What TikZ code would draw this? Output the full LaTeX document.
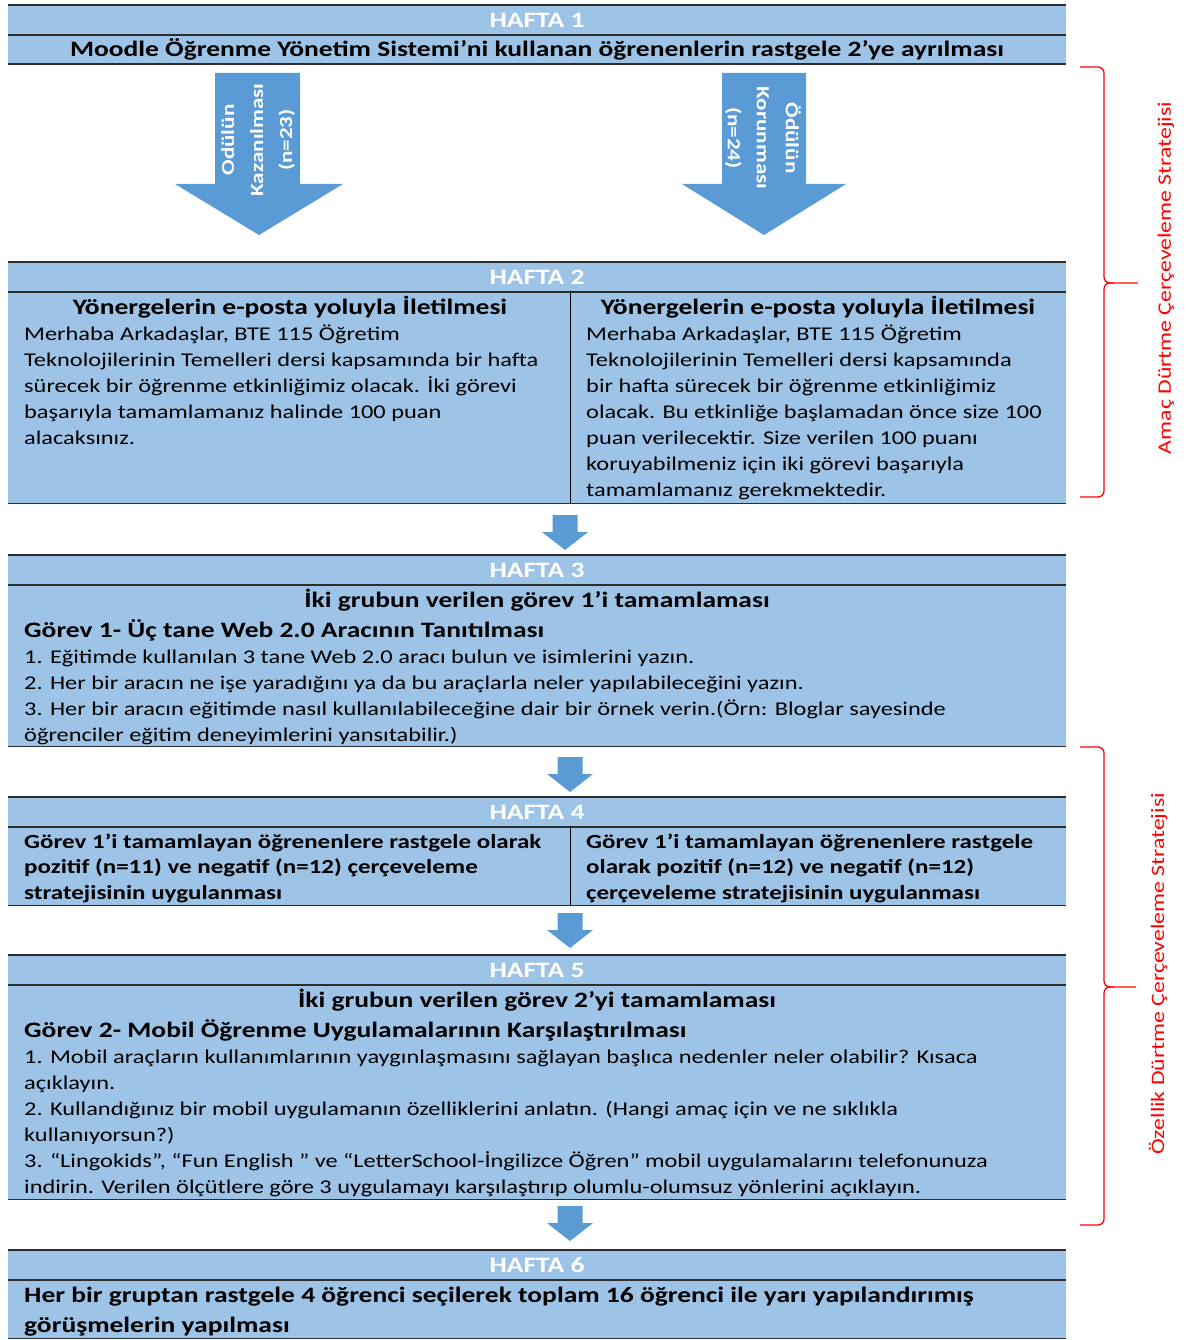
\documentclass[tikz,border=0pt]{standalone}
\usepackage{fontspec}
\setmainfont{Carlito}[FakeStretch = 1.25]
\usepackage{tikz}
\usetikzlibrary{positioning}

\definecolor{cellblue}{RGB}{157,195,230}
\definecolor{arrowblue}{RGB}{91,155,213}
\definecolor{rulegray}{RGB}{45,45,45}
\definecolor{bracered}{RGB}{255,0,0}

\begin{document}
\begin{tikzpicture}
		[
			x = 1pt, y = -1pt,
			header/.style = {rectangle, fill = cellblue, minimum width = 1058pt, minimum height = 29pt, inner sep = 0pt, text = white, font = \fontsize{22}{26}\selectfont\bfseries},
			cell/.style = {rectangle, fill = cellblue, inner sep = 0pt, anchor = north west},
			rule/.style = {draw = rulegray, line width = 1.8pt},
			divider/.style = {draw = black, line width = 1.5pt},
			title/.style = {anchor = base, inner sep = 0pt, font = \fontsize{22}{26}\selectfont\bfseries},
			taskhead/.style = {anchor = base west, inner sep = 0pt, font = \fontsize{22}{26}\selectfont\bfseries},
			boldtext/.style = {anchor = base west, inner sep = 0pt, font = \fontsize{20}{26}\selectfont\bfseries},
			bodytext/.style = {anchor = base west, inner sep = 0pt, font = \fontsize{19.5}{26}\selectfont},
			blockarrow/.style = {fill = arrowblue},
			arrowtext/.style = {text = white, align = center, inner sep = 0pt, font = \fontsize{18.5}{29}\selectfont\bfseries},
			brace/.style = {draw = bracered, line width = 1.3pt, rounded corners = 6pt},
			bracetext/.style = {text = bracered, rotate = 90, inner sep = 0pt, font = \fontsize{19}{24}\selectfont},
		]
			\useasboundingbox (0,0) rectangle (1186,1340);
			%
			% week 1
			\node (h1) [header] at (537,20) {HAFTA 1};
			\node (b1) [cell, minimum width = 1058pt, minimum height = 29pt] at (8,35) {};
			\node (t1) [title] at (537,57) {Moodle Öğrenme Yönetim Sistemi’ni kullanan öğrenenlerin rastgele 2’ye ayrılması};
			\draw [rule] (h1.north west) -- (h1.north east);
			\draw [rule] (h1.south west) -- (h1.south east);
			\draw [rule] (b1.south west) -- (b1.south east);
			%
			% the two groups
			\fill [blockarrow] (215,73) -- (300,73) -- (300,184) -- (343,184) -- (259,235) -- (175,184) -- (215,184) -- cycle;
			\fill [blockarrow] (722,73) -- (806,73) -- (806,184) -- (846,184) -- (764,235) -- (682,184) -- (722,184) -- cycle;
			\node (g1) [arrowtext, rotate = 90] at (258,140) {Odülün\\Kazanılması\\(n=23)};
			\node (g2) [arrowtext, rotate = -90] at (763,138) {Ödülün\\Korunması\\(n=24)};
			%
			% week 2
			\node (h2) [header] at (537,277) {HAFTA 2};
			\node (b2l) [cell, minimum width = 562pt, minimum height = 212pt] at (8,291) {};
			\node (b2r) [cell, minimum width = 496pt, minimum height = 212pt] at (570,291) {};
			\draw [rule] (h2.north west) -- (h2.north east);
			\draw [rule] (h2.south west) -- (h2.south east);
			\draw [rule] (b2l.south west) -- (b2r.south east);
			\draw [divider] (b2l.north east) -- (b2l.south east);
			\node (t2l) [title] at (290,314) {Yönergelerin e-posta yoluyla İletilmesi};
			\node (t2r) [title] at (818,314) {Yönergelerin e-posta yoluyla İletilmesi};
			\foreach \txt [count = \i] in {{Merhaba Arkadaşlar, BTE 115 Öğretim},
				{Teknolojilerinin Temelleri dersi kapsamında bir hafta},
				{sürecek bir öğrenme etkinliğimiz olacak. İki görevi},
				{başarıyla tamamlamanız halinde 100 puan},
				{alacaksınız.}}
				\node (l2-\i) [bodytext] at (24,{340+26*(\i-1)}) {\txt};
			\foreach \txt [count = \i] in {{Merhaba Arkadaşlar, BTE 115 Öğretim},
				{Teknolojilerinin Temelleri dersi kapsamında},
				{bir hafta sürecek bir öğrenme etkinliğimiz},
				{olacak. Bu etkinliğe başlamadan önce size 100},
				{puan verilecektir. Size verilen 100 puanı},
				{koruyabilmeniz için iki görevi başarıyla},
				{tamamlamanız gerekmektedir.}}
				\node (r2-\i) [bodytext] at (586,{340+26*(\i-1)}) {\txt};
			%
			% week 3
			\node (h3) [header] at (537,570) {HAFTA 3};
			\node (b3) [cell, minimum width = 1058pt, minimum height = 162pt] at (8,584) {};
			\draw [rule] (h3.north west) -- (h3.north east);
			\draw [rule] (h3.south west) -- (h3.south east);
			\draw [rule] (b3.south west) -- (b3.south east);
			\node (t3) [title] at (537,607) {İki grubun verilen görev 1’i tamamlaması};
			\node (k3) [taskhead] at (24,637) {Görev 1- Üç tane Web 2.0 Aracının Tanıtılması};
			\foreach \txt [count = \i] in {{1. Eğitimde kullanılan 3 tane Web 2.0 aracı bulun ve isimlerini yazın.},
				{2. Her bir aracın ne işe yaradığını ya da bu araçlarla neler yapılabileceğini yazın.},
				{3. Her bir aracın eğitimde nasıl kullanılabileceğine dair bir örnek verin.(Örn: Bloglar sayesinde},
				{öğrenciler eğitim deneyimlerini yansıtabilir.)}}
				\node (l3-\i) [bodytext] at (24,{663+26*(\i-1)}) {\txt};
			%
			% week 4
			\node (h4) [header] at (537,812) {HAFTA 4};
			\node (b4l) [cell, minimum width = 562pt, minimum height = 79pt] at (8,826) {};
			\node (b4r) [cell, minimum width = 496pt, minimum height = 79pt] at (570,826) {};
			\draw [rule] (h4.north west) -- (h4.north east);
			\draw [rule] (h4.south west) -- (h4.south east);
			\draw [rule] (b4l.south west) -- (b4r.south east);
			\draw [divider] (b4l.north east) -- (b4l.south east);
			\foreach \txt [count = \i] in {{Görev 1’i tamamlayan öğrenenlere rastgele olarak},
				{pozitif (n=11) ve negatif (n=12) çerçeveleme},
				{stratejisinin uygulanması}}
				\node (l4-\i) [boldtext] at (24,{848+25.5*(\i-1)}) {\txt};
			\foreach \txt [count = \i] in {{Görev 1’i tamamlayan öğrenenlere rastgele},
				{olarak pozitif (n=12) ve negatif (n=12)},
				{çerçeveleme stratejisinin uygulanması}}
				\node (r4-\i) [boldtext] at (586,{848+25.5*(\i-1)}) {\txt};
			%
			% week 5
			\node (h5) [header] at (537,970) {HAFTA 5};
			\node (b5) [cell, minimum width = 1058pt, minimum height = 215pt] at (8,984) {};
			\draw [rule] (h5.north west) -- (h5.north east);
			\draw [rule] (h5.south west) -- (h5.south east);
			\draw [rule] (b5.south west) -- (b5.south east);
			\node (t5) [title] at (537,1007) {İki grubun verilen görev 2’yi tamamlaması};
			\node (k5) [taskhead] at (24,1037) {Görev 2- Mobil Öğrenme Uygulamalarının Karşılaştırılması};
			\foreach \txt [count = \i] in {{1. Mobil araçların kullanımlarının yaygınlaşmasını sağlayan başlıca nedenler neler olabilir? Kısaca},
				{açıklayın.},
				{2. Kullandığınız bir mobil uygulamanın özelliklerini anlatın. (Hangi amaç için ve ne sıklıkla},
				{kullanıyorsun?)},
				{3. “Lingokids”, “Fun English ” ve “LetterSchool-İngilizce Öğren” mobil uygulamalarını telefonunuza},
				{indirin. Verilen ölçütlere göre 3 uygulamayı karşılaştırıp olumlu-olumsuz yönlerini açıklayın.}}
				\node (l5-\i) [bodytext] at (24,{1063+26*(\i-1)}) {\txt};
			%
			% week 6
			\node (h6) [header] at (537,1265) {HAFTA 6};
			\node (b6) [cell, minimum width = 1058pt, minimum height = 58pt] at (8,1280) {};
			\draw [rule] (h6.north west) -- (h6.north east);
			\draw [rule] (h6.south west) -- (h6.south east);
			\draw [rule] (b6.south west) -- (b6.south east);
			\node (l6-1) [taskhead] at (24,1302) {Her bir gruptan rastgele 4 öğrenci seçilerek toplam 16 öğrenci ile yarı yapılandırımış};
			\node (l6-2) [taskhead] at (24,1332) {görüşmelerin yapılması};
			%
			% arrows between the weeks
			\foreach \ax/\ay in {565/515, 570/757, 570/913, 570/1206}
				\fill [blockarrow] (\ax-12.5,\ay) -- (\ax+12.5,\ay) -- (\ax+12.5,\ay+17) -- (\ax+23,\ay+17) -- (\ax,\ay+35) -- (\ax-23,\ay+17) -- (\ax-12.5,\ay+17) -- cycle;
			%
			% strategies
			\draw [brace] (1080,67) -- (1104,67) -- (1104,283) -- (1138,283);
			\draw [brace] (1080,497) -- (1104,497) -- (1104,283) -- (1114,283);
			\node (s1) [bracetext] at (1166,278) {Amaç Dürtme Çerçeveleme Stratejisi};
			\draw [brace] (1080,747) -- (1104,747) -- (1104,987) -- (1136,987);
			\draw [brace] (1080,1225) -- (1104,1225) -- (1104,987) -- (1114,987);
			\node (s2) [bracetext] at (1158,974) {Özellik Dürtme Çerçeveleme Stratejisi};
			%
		\end{tikzpicture}
\end{document}
